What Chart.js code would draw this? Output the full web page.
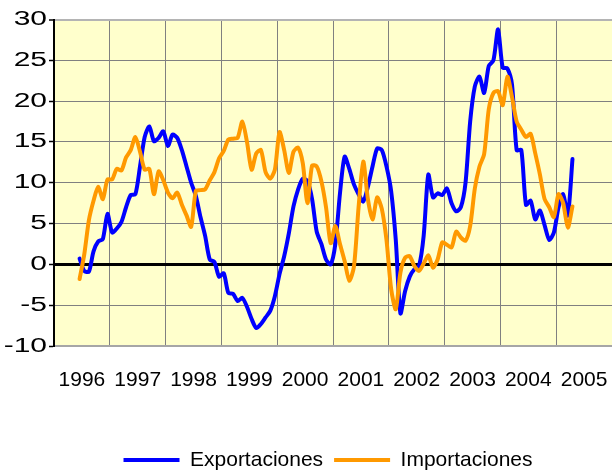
<!DOCTYPE html>
<html>
<head>
<meta charset="utf-8">
<script src="https://cdn.jsdelivr.net/npm/chart.js@4/dist/chart.umd.min.js"></script>
<style>
  html, body { margin: 0; padding: 0; background: #ffffff; }
  #wrap { width: 612px; height: 473px; }
</style>
</head>
<body>
<div id="wrap"><canvas id="c" width="612" height="473"></canvas></div>
<script>
// ---- data (monthly, first point = June 1996) ----
const years = ['1996','1997','1998','1999','2000','2001','2002','2003','2004','2005'];
const firstMonth = 5; // months after January 1996
const exportaciones = [
  0.7, -0.8, -0.9, 1.6, 2.8, 3.1, 6.2, 3.9, 4.4, 5.2,
  7.0, 8.5, 8.6, 12.0, 15.6, 16.9, 15.1, 15.5, 16.3, 14.5,
  15.9, 15.5, 14.0, 12.0, 10.0, 8.4, 5.8, 3.5, 0.6, 0.3,
  -1.5, -1.1, -3.5, -3.6, -4.5, -4.1, -5.2, -6.7, -7.8, -7.3,
  -6.5, -5.7, -3.9, -1.2, 1.0, 3.8, 7.1, 9.2, 10.5, 10.2,
  8.0, 4.0, 2.5, 0.6, 0.0, 2.5, 8.7, 13.2, 11.7, 9.8,
  8.6, 7.7, 9.5, 12.0, 14.2, 14.0, 12.0, 9.0, 3.0, -6.0,
  -3.3, -1.5, -0.6, -0.2, 3.5, 11.0, 8.2, 8.7, 8.5, 9.3,
  7.5, 6.5, 7.0, 10.0, 17.5, 21.8, 23.0, 21.0, 24.3, 25.0,
  28.8, 24.1, 24.0, 22.0, 14.0, 14.0, 7.3, 7.8, 5.5, 6.6,
  4.8, 3.0, 3.9, 7.0, 8.6, 6.0, 12.9
];
const importaciones = [
  -1.8, 1.2, 5.4, 7.8, 9.5, 8.0, 10.4, 10.4, 11.7, 11.5,
  13.1, 14.0, 15.6, 13.8, 11.6, 11.7, 8.6, 11.4, 10.3, 8.8,
  8.1, 8.8, 7.3, 6.0, 4.6, 9.0, 9.1, 9.2, 10.3, 11.3,
  13.0, 13.9, 15.3, 15.4, 15.5, 17.5, 15.0, 11.6, 13.6, 14.0,
  11.3, 10.5, 11.6, 16.2, 14.0, 11.2, 13.8, 14.3, 12.4, 7.5,
  12.1, 12.0, 10.2, 7.0, 2.6, 4.7, 2.5, 0.4, -2.0, -0.3,
  7.0, 12.6, 8.0, 5.5, 8.2, 6.8, 3.0, -3.0, -5.5, -1.0,
  0.8, 1.0, -0.2, -0.8, 0.1, 1.1, -0.4, 0.6, 2.7, 2.4,
  2.1, 4.0, 3.3, 2.9, 4.7, 9.3, 12.0, 13.5, 19.0, 21.0,
  21.2, 19.5, 23.0, 20.5, 17.5, 16.5, 15.6, 16.0, 13.6, 11.0,
  8.0, 7.0, 5.8, 8.6, 7.5, 4.5, 7.1
];
const yTicks = { min: -10, max: 30, step: 5 };

const toPoints = arr => arr.map((v, i) => ({ x: firstMonth + i + 0.5, y: v }));
const monthsTotal = years.length * 12;

Chart.defaults.font.family = "'Liberation Sans', Arial, sans-serif";
Chart.defaults.color = '#000';

const plotBg = {
  id: 'plotBg',
  beforeDraw(chart) {
    const { ctx, chartArea: a } = chart;
    ctx.save();
    ctx.fillStyle = '#FFFFCC';
    ctx.fillRect(a.left, a.top, a.right - a.left, a.bottom - a.top);
    ctx.restore();
  }
};
const legendShift = {
  id: 'legendShift',
  afterLayout(chart) {
    const l = chart.legend;
    if (!l) return;
    l.left += 22; l.right += 22;
    l.top += 7.5; l.bottom += 7.5;
  }
};

new Chart(document.getElementById('c'), {
  type: 'line',
  data: {
    datasets: [
      { label: 'Exportaciones', data: toPoints(exportaciones), borderColor: '#0000FF', backgroundColor: '#0000FF',
        borderWidth: 4, pointRadius: 0, fill: false, tension: 0.25, order: 1,
        borderJoinStyle: 'round', borderCapStyle: 'round' },
      { label: 'Importaciones', data: toPoints(importaciones), borderColor: '#FF9900', backgroundColor: '#FF9900',
        borderWidth: 4, pointRadius: 0, fill: false, tension: 0.25, order: 0,
        borderJoinStyle: 'round', borderCapStyle: 'round' }
    ]
  },
  options: {
    responsive: false,
    animation: false,
    devicePixelRatio: 1,
    layout: { padding: { top: 19.5, left: 0, right: 0, bottom: 0 } },
    plugins: {
      tooltip: { enabled: false },
      legend: {
        position: 'bottom',
        labels: {
          boxWidth: 56, boxHeight: 4, padding: 11,
          font: { size: 21 }, color: '#000',
          generateLabels(chart) {
            return chart.data.datasets.map((d, i) => ({
              text: d.label, fillStyle: d.borderColor, strokeStyle: d.borderColor,
              lineWidth: 0, hidden: false, datasetIndex: i, fontColor: '#000'
            }));
          }
        }
      }
    },
    scales: {
      x: {
        type: 'linear', min: 0, max: monthsTotal,
        afterBuildTicks(scale) {
          const t = [];
          for (let v = 0; v <= monthsTotal; v += 6) t.push({ value: v });
          scale.ticks = t;
        },
        ticks: {
          autoSkip: false, maxRotation: 0, minRotation: 0, padding: 22,
          font: { size: 21 }, color: '#000',
          callback(v) { return v % 12 === 6 ? years[(v - 6) / 12] : ''; }
        },
        grid: {
          drawTicks: false,
          color: ctx => (ctx.tick && ctx.tick.value % 12 === 0 && ctx.tick.value > 0 && ctx.tick.value < monthsTotal) ? '#808080' : 'rgba(0,0,0,0)',
          lineWidth: 1
        },
        border: { color: '#a6a6a6', width: 2 },
        afterFit(scale) {
          scale.height = 85;
          scale.paddingLeft = 0;
          scale.paddingRight = 0;
        }
      },
      y: {
        min: yTicks.min, max: yTicks.max,
        ticks: { stepSize: yTicks.step, padding: 2, font: { size: 20 }, color: '#000' },
        grid: {
          color: ctx => ctx.tick.value === 0 ? '#000000' : (ctx.tick.value === yTicks.max ? '#b4b4b4' : '#808080'),
          lineWidth: ctx => ctx.tick.value === 0 ? 3 : (ctx.tick.value === yTicks.max ? 2 : 1),
          tickColor: '#000', tickLength: 5, tickWidth: 1.5
        },
        border: { color: '#000', width: 2 },
        afterFit(scale) {
          scale.width = 54;
          scale.paddingTop = 0;
          scale.paddingBottom = 0;
          if (!scale._stretchWrapped) {
            const orig = scale.drawLabels;
            scale.drawLabels = function (area) {
              const ctx = this.ctx;
              const ax = this.right - 7;
              ctx.save();
              ctx.translate(ax, 0);
              ctx.scale(1.5, 1);
              ctx.translate(-ax, 0);
              orig.call(this, area);
              ctx.restore();
            };
            scale._stretchWrapped = true;
          }
        }
      }
    }
  },
  plugins: [plotBg, legendShift]
});
</script>
</body>
</html>
